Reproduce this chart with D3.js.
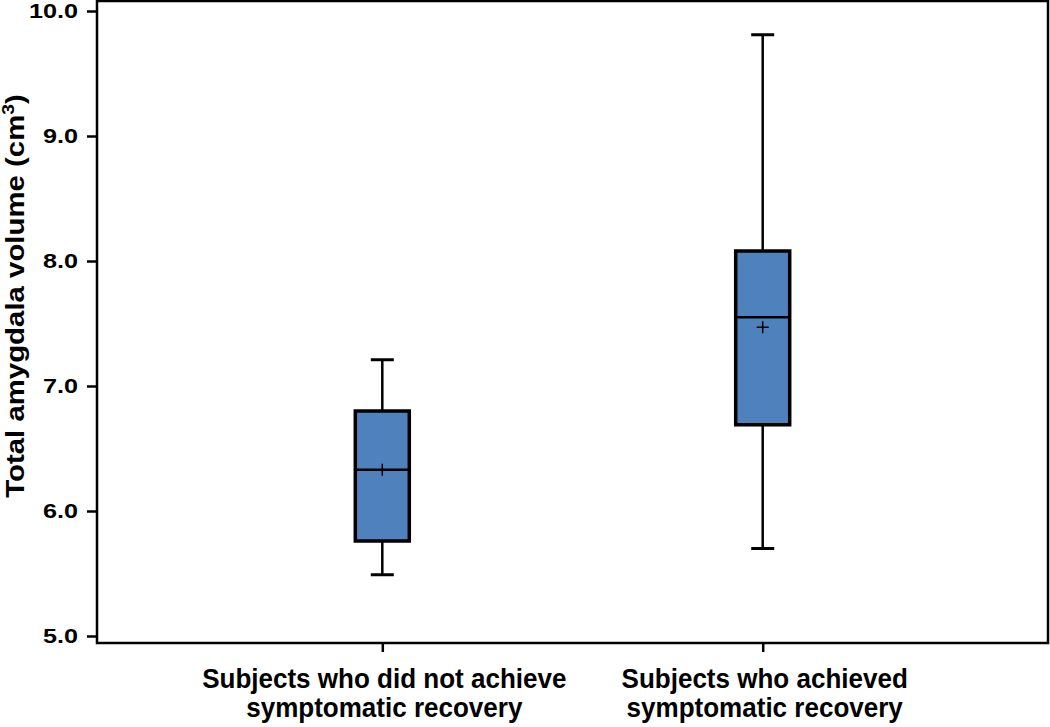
<!DOCTYPE html>
<html>
<head>
<meta charset="utf-8">
<script src="https://cdn.jsdelivr.net/npm/d3@7"></script>
<style>
  body { margin: 0; background: #fff; }
  svg text { font-family: "Liberation Sans", Arial, sans-serif; font-weight: bold; fill: #000; }
</style>
</head>
<body>
<svg id="chart" width="1050" height="727"></svg>
<script>
// 数据
const groups = ["Subjects who did not achieve|symptomatic recovery", "Subjects who achieved|symptomatic recovery"];
const whiskerLow = [5.49, 5.70];
const q1 = [5.76, 6.69];
const median = [6.33, 7.55];
const q3 = [6.80, 8.08];
const whiskerHigh = [7.21, 9.81];
const means = [6.33, 7.47];
const yTicks = [5, 6, 7, 8, 9, 10];

const PLOT_L = 97, PLOT_R = 1048, PLOT_T = 1, PLOT_B = 643;
const BOX_COLOR = "#4f81bd";

const svg = d3.select("#chart");

const x = d3.scalePoint().domain(groups).range([PLOT_L, PLOT_R]).padding(0.75);
const y = d3.scaleLinear().domain([4.944, 10.08]).range([PLOT_B, PLOT_T]);

// 边框
svg.append("rect")
    .attr("x", PLOT_L).attr("y", PLOT_T)
    .attr("width", PLOT_R - PLOT_L).attr("height", PLOT_B - PLOT_T)
    .attr("fill", "none").attr("stroke", "#000").attr("stroke-width", 2.5);

// y 轴
const yAxis = svg.append("g")
    .attr("transform", `translate(${PLOT_L},0)`)
    .call(d3.axisLeft(y).tickValues(yTicks).tickFormat(d3.format(".1f")).tickSize(10).tickPadding(8));
yAxis.select(".domain").remove();
yAxis.selectAll("line").attr("stroke", "#000").attr("stroke-width", 2.5);
// 刻度数字偏宽
yAxis.selectAll("text")
    .attr("x", 0)
    .attr("transform", "translate(-19,0) scale(1.2,1)")
    .attr("font-size", 21)
    .style("font-family", "Liberation Sans, Arial, sans-serif")
    .style("font-weight", "bold")
    .attr("fill", "#000");

// x 轴
const xAxis = svg.append("g")
    .attr("transform", `translate(0,${PLOT_B})`)
    .call(d3.axisBottom(x).tickSize(9).tickFormat(""));
xAxis.select(".domain").remove();
xAxis.selectAll("line").attr("stroke", "#000").attr("stroke-width", 2.5);

// 分类标签 (两行)，字体稍窄
groups.forEach((g, i) => {
    const lines = g.split("|");
    const t = svg.append("text")
        .attr("transform", `translate(${x(g) + 2},0) scale(0.93,1)`)
        .attr("text-anchor", "middle")
        .attr("font-size", 28);
    lines.forEach((l, k) => {
        t.append("tspan").attr("x", 0).attr("y", 688 + k * 29).text(l);
    });
});

// y 轴标题
svg.append("text")
    .attr("transform", `translate(24,296) rotate(-90) scale(1.13,1)`)
    .attr("text-anchor", "middle")
    .attr("font-size", 26)
    .html('Total amygdala volume (cm<tspan dy="-10" font-size="17">3</tspan><tspan dy="10">)</tspan>');

// 箱线图
const boxW = 54, capW = 23;
groups.forEach((g, i) => {
    const cx = x(g);
    const gg = svg.append("g");
    // 须
    gg.append("line")
        .attr("x1", cx).attr("x2", cx)
        .attr("y1", y(whiskerHigh[i])).attr("y2", y(q3[i]))
        .attr("stroke", "#000").attr("stroke-width", 2.5);
    gg.append("line")
        .attr("x1", cx).attr("x2", cx)
        .attr("y1", y(q1[i])).attr("y2", y(whiskerLow[i]))
        .attr("stroke", "#000").attr("stroke-width", 2.5);
    gg.append("line")
        .attr("x1", cx - capW / 2).attr("x2", cx + capW / 2)
        .attr("y1", y(whiskerHigh[i])).attr("y2", y(whiskerHigh[i]))
        .attr("stroke", "#000").attr("stroke-width", 3);
    gg.append("line")
        .attr("x1", cx - capW / 2).attr("x2", cx + capW / 2)
        .attr("y1", y(whiskerLow[i])).attr("y2", y(whiskerLow[i]))
        .attr("stroke", "#000").attr("stroke-width", 3);
    // 箱体
    gg.append("rect")
        .attr("x", cx - boxW / 2).attr("y", y(q3[i]))
        .attr("width", boxW).attr("height", y(q1[i]) - y(q3[i]))
        .attr("fill", BOX_COLOR).attr("stroke", "#000").attr("stroke-width", 3.5);
    // 中位数
    gg.append("line")
        .attr("x1", cx - boxW / 2).attr("x2", cx + boxW / 2)
        .attr("y1", y(median[i])).attr("y2", y(median[i]))
        .attr("stroke", "#000").attr("stroke-width", 2.5);
    // 均值 +
    const my = y(means[i]);
    gg.append("path")
        .attr("d", `M${cx - 6},${my}H${cx + 6}M${cx},${my - 6}V${my + 6}`)
        .attr("stroke", "#000").attr("stroke-width", 1.5).attr("fill", "none");
});
</script>
</body>
</html>
